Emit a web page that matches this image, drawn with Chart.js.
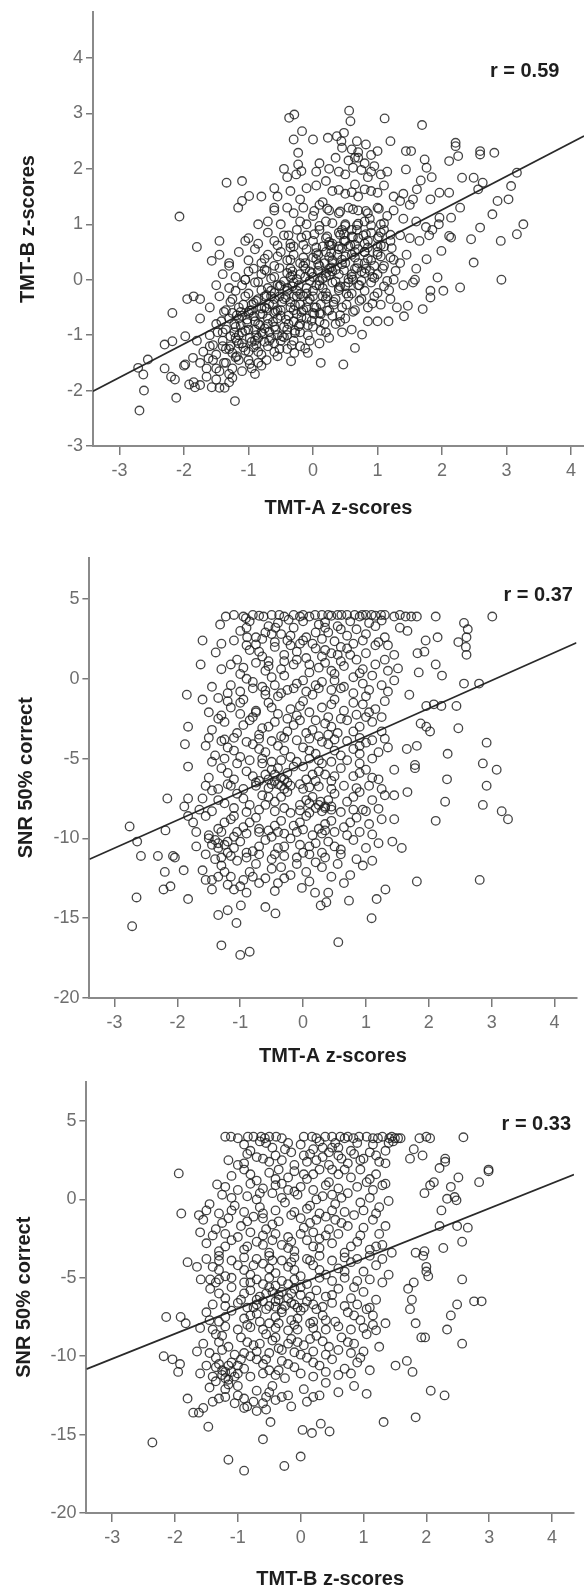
<!DOCTYPE html>
<html><head><meta charset="utf-8">
<script src="https://cdn.jsdelivr.net/npm/chart.js@4/dist/chart.umd.min.js"></script>
<style>
html,body{margin:0;padding:0;background:#fff}
body{width:584px;height:1591px;position:relative;overflow:hidden}
canvas{position:absolute;left:0}
</style></head>
<body>
<canvas id="p1" width="584" height="530" style="top:0px;width:584px;height:530px"></canvas>
<canvas id="p2" width="584" height="530" style="top:540px;width:584px;height:530px"></canvas>
<canvas id="p3" width="584" height="521" style="top:1070px;width:584px;height:521px"></canvas>
<script>
// ---------- DATA ----------
const zTicks = [-3,-2,-1,0,1,2,3,4];
const p1YTicks = [-3,-2,-1,0,1,2,3,4];
const snrTicks = [-20,-15,-10,-5,0,5];

const p1Labels = {x:'TMT-A z-scores', y:'TMT-B z-scores', r:'r = 0.59'};
const p2Labels = {x:'TMT-A z-scores', y:'SNR 50% correct', r:'r = 0.37'};
const p3Labels = {x:'TMT-B z-scores', y:'SNR 50% correct', r:'r = 0.33'};

// regression fits [slope, intercept]
const p1Fit = [0.605, 0.05];
const p2Fit = [1.75, -5.36];
const p3Fit = [1.60, -5.37];

// panel 1: TMT-A (x) vs TMT-B (y) - outer / sparse points
const p1Outer = [
[-0.37,2.92],[-0.29,2.98],[0.56,3.05],[0.58,2.86],[1.11,2.91],[1.69,2.79],[-0.17,2.68],[-0.30,2.53],[0.0,2.53],[0.23,2.56],[0.37,2.59],[0.44,2.5],[0.48,2.65],[0.68,2.5],[0.82,2.44],[1.2,2.5],[1.0,2.32],[1.44,2.32],[1.52,2.32],[2.21,2.47],[2.21,2.41],[2.59,2.32],[2.59,2.26],[2.81,2.29],[-0.23,2.29],[-0.23,2.08],[-0.26,1.9],[-0.18,1.96],[1.73,2.17],[1.76,2.02],[2.11,2.14],[2.25,2.23],
[-2.18,-0.6],[-1.98,-1.02],[-2.3,-1.17],[-2.18,-1.11],[-2.56,-1.44],[-2.71,-1.59],[-2.63,-1.71],[-2.62,-2.0],[-2.69,-2.36],[-2.12,-2.13],[-2.14,-1.8],[-1.98,-1.53],[-1.86,-1.41],[-1.92,-1.89],[-1.83,-1.94],[-1.57,-1.94],[-1.37,-1.95],[-1.25,-1.77],[-1.21,-2.19],[0.12,-1.5],[0.47,-1.53],[0.65,-1.23],[-0.08,-1.32],[-0.29,-1.32],[-0.34,-1.47],[0.76,-0.99],[0.85,-0.75],[1.0,-0.75],[1.17,-0.75],[1.41,-0.66],[1.47,-0.47],[1.7,-0.53],[1.82,-0.2],[1.82,-0.32],[2.02,-0.2],[2.28,-0.14],[1.93,0.04],[1.58,0.0],[1.76,0.37],[1.99,0.52],[2.14,0.76],[2.49,0.31],[2.92,0.0],[2.45,0.73],[2.59,0.94],[2.91,0.7],[2.78,1.18],[2.86,1.42],[3.03,1.45],[3.16,0.82],[3.26,1.0],[3.07,1.69],[3.16,1.93],[2.31,1.84],[2.49,1.84],[2.56,1.63],[2.63,1.75],[1.96,1.57],[2.11,1.57],[1.82,1.45],[1.84,1.85],[1.67,1.79],[1.61,1.63],[1.44,1.99],[1.96,1.12],[2.14,1.12],[2.28,1.3],[2.11,0.79],[-1.34,1.75],[-1.10,1.78],[-0.99,1.51],[-1.1,1.42],[-1.16,1.3],[-2.07,1.14],[-1.80,0.59],[-1.57,0.34],[-1.05,0.0],[-1.3,0.25],[-1.45,0.7],[-0.8,1.5],[-0.6,1.65],[-0.45,2.0],[0.05,1.95],[0.65,2.2]
];
// panel 1 - main cloud
const p1Cloud = [
[0.45,2.38],[0.6,2.35],[0.7,2.3],[0.9,2.25],[0.35,2.2],[0.55,2.15],[0.8,2.1],[0.95,2.05],[0.75,1.98],[0.62,2.02],[0.4,1.95],[1.05,1.9],[0.85,1.85],[1.15,1.95],[0.25,2.0],[0.1,2.1],
[-0.4,1.85],[-0.35,1.6],[-0.1,1.65],[0.05,1.7],[0.2,1.78],[0.3,1.6],[0.5,1.55],[0.65,1.72],[0.9,1.6],[1.1,1.7],[1.25,1.5],[1.4,1.55],[0.7,1.5],[-0.55,1.5],[-0.6,1.3],[-0.2,1.45],[0.15,1.4],[1.35,1.42],[1.55,1.45],[1.5,1.35],
[-0.6,1.25],[-0.4,1.3],[-0.3,1.2],[-0.15,1.3],[0.0,1.15],[0.1,1.35],[0.25,1.25],[0.4,1.2],[0.55,1.3],[0.7,1.25],[0.85,1.2],[1.0,1.3],[1.15,1.15],[1.25,1.25],[1.4,1.1],[1.6,1.05],[1.75,0.95],[1.85,0.9],[1.95,1.0],[-0.7,1.05],[-0.5,1.0],[-0.2,1.05],[0.2,1.05],[0.5,1.0],[0.8,1.05],[1.05,1.0],[-0.85,1.0],
[-1.0,0.75],[-1.05,0.7],[-0.85,0.65],[-0.7,0.85],[-0.6,0.7],[-0.45,0.8],[-0.35,0.65],[-0.25,0.9],[-0.1,0.8],[0.0,0.7],[0.1,0.9],[0.2,0.75],[0.3,0.65],[0.4,0.85],[0.5,0.7],[0.6,0.9],[0.7,0.75],[0.8,0.65],[0.9,0.85],[1.0,0.75],[1.1,0.9],[1.2,0.7],[1.35,0.8],[1.5,0.75],[1.65,0.7],[1.8,0.8],[0.55,0.6],[-0.3,0.6],[0.15,0.6],[1.0,0.6],
[-1.45,0.45],[-1.3,0.3],[-1.15,0.5],[-1.0,0.35],[-0.9,0.55],[-0.8,0.3],[-0.7,0.45],[-0.6,0.25],[-0.5,0.5],[-0.4,0.35],[-0.3,0.45],[-0.2,0.3],[-0.1,0.55],[0.0,0.4],[0.1,0.25],[0.2,0.5],[0.3,0.35],[0.4,0.55],[0.5,0.3],[0.6,0.45],[0.7,0.3],[0.8,0.5],[0.9,0.35],[1.0,0.45],[1.1,0.25],[1.2,0.4],[1.35,0.3],[1.45,0.45],[1.6,0.2],[0.25,0.2],[-0.35,0.2],[0.65,0.2],
[-1.85,-0.3],[-1.75,-0.35],[-1.5,-0.1],[-1.4,0.1],[-1.3,-0.15],[-1.2,0.05],[-1.1,-0.1],[-1.0,0.15],[-0.9,-0.05],[-0.8,0.1],[-0.7,-0.15],[-0.6,0.05],[-0.5,-0.1],[-0.4,0.12],[-0.3,-0.05],[-0.2,0.1],[-0.1,-0.15],[0.0,0.05],[0.1,-0.1],[0.2,0.12],[0.3,-0.05],[0.4,0.1],[0.5,-0.12],[0.6,0.05],[0.7,-0.1],[0.8,0.12],[0.9,-0.05],[1.0,0.1],[1.1,-0.12],[1.25,0.0],[1.4,-0.1],[1.55,-0.05],[-0.25,-0.2],[0.35,0.18],[-0.75,0.18],
[-1.95,-0.35],[-1.6,-0.5],[-1.45,-0.3],[-1.35,-0.55],[-1.25,-0.35],[-1.15,-0.5],[-1.05,-0.3],[-0.95,-0.55],[-0.85,-0.35],[-0.75,-0.5],[-0.65,-0.3],[-0.55,-0.55],[-0.45,-0.35],[-0.35,-0.5],[-0.25,-0.3],[-0.15,-0.55],[-0.05,-0.35],[0.05,-0.5],[0.15,-0.3],[0.25,-0.55],[0.35,-0.35],[0.45,-0.5],[0.55,-0.3],[0.65,-0.55],[0.75,-0.35],[0.85,-0.5],[0.95,-0.3],[1.05,-0.45],[1.2,-0.35],[1.3,-0.5],[-1.75,-0.7],[0.1,-0.6],[-0.6,-0.6],
[-1.5,-0.8],[-1.4,-0.95],[-1.3,-0.7],[-1.2,-0.85],[-1.1,-0.65],[-1.0,-0.9],[-0.9,-0.75],[-0.8,-0.95],[-0.7,-0.7],[-0.6,-0.85],[-0.5,-0.65],[-0.4,-0.9],[-0.3,-0.75],[-0.2,-0.95],[-0.1,-0.7],[0.0,-0.85],[0.1,-0.75],[0.2,-0.95],[0.35,-0.8],[0.5,-0.7],[0.6,-0.9],[-1.15,-1.0],[-0.85,-1.05],[-0.55,-1.0],[0.3,-0.65],[0.45,-0.95],[-1.6,-1.0],[-1.25,-0.6],
[-1.8,-1.1],[-1.7,-1.3],[-1.6,-1.2],[-1.5,-1.35],[-1.4,-1.1],[-1.3,-1.25],[-1.2,-1.4],[-1.1,-1.15],[-1.0,-1.3],[-0.9,-1.1],[-0.8,-1.35],[-0.7,-1.2],[-0.6,-1.3],[-0.5,-1.1],[-0.4,-1.25],[-0.3,-1.1],[-0.2,-1.2],[-0.05,-1.1],[0.1,-1.15],[0.25,-1.05],[-1.0,-1.45],[-0.85,-1.5],
[-1.75,-1.5],[-1.65,-1.6],[-1.55,-1.45],[-1.45,-1.65],[-1.35,-1.5],[-1.25,-1.6],[-1.15,-1.45],[-0.95,-1.6],[-0.9,-1.7],[-1.5,-1.8],[-1.75,-1.9],[-1.85,-1.85],[-1.3,-1.85],[-0.8,-1.55],[-2.0,-1.55],[-2.2,-1.75],[-2.3,-1.6]
];
// panel 1 - dense core
const p1Core = [
[-1.62,-1.42],[-1.38,-1.5],[-1.18,-1.38],[-0.98,-1.52],[-0.72,-1.45],[-0.55,-1.38],
[-1.55,-1.18],[-1.35,-1.25],[-1.15,-1.15],[-0.92,-1.22],[-0.75,-1.12],[-0.52,-1.25],[-0.33,-1.18],[-0.12,-1.24],
[-1.48,-0.95],[-1.28,-1.02],[-1.05,-0.92],[-0.88,-1.0],[-0.68,-0.94],[-0.45,-1.04],[-0.28,-0.96],[-0.08,-1.0],[0.12,-0.92],
[-1.42,-0.75],[-1.22,-0.8],[-1.02,-0.72],[-0.82,-0.82],[-0.62,-0.76],[-0.42,-0.72],[-0.22,-0.84],[-0.02,-0.74],[0.18,-0.8],[0.42,-0.76],
[-1.38,-0.58],[-1.18,-0.64],[-0.98,-0.56],[-0.78,-0.62],[-0.58,-0.57],[-0.38,-0.65],[-0.18,-0.58],[0.02,-0.62],[0.22,-0.56],[0.42,-0.64],[0.62,-0.58],
[-1.28,-0.4],[-1.08,-0.45],[-0.88,-0.38],[-0.68,-0.44],[-0.48,-0.4],[-0.28,-0.46],[-0.08,-0.39],[0.12,-0.44],[0.32,-0.4],[0.52,-0.45],[0.72,-0.38],[0.92,-0.43],
[-1.2,-0.2],[-1.0,-0.25],[-0.8,-0.19],[-0.6,-0.24],[-0.4,-0.2],[-0.2,-0.26],[0.0,-0.2],[0.2,-0.24],[0.4,-0.19],[0.6,-0.25],[0.8,-0.2],[1.0,-0.24],[1.18,-0.19],
[-1.05,0.0],[-0.85,-0.04],[-0.65,0.02],[-0.45,-0.03],[-0.25,0.01],[-0.05,-0.02],[0.15,0.02],[0.35,-0.03],[0.55,0.01],[0.75,-0.02],[0.95,0.03],[1.15,-0.02],
[-0.92,0.2],[-0.72,0.16],[-0.52,0.21],[-0.32,0.15],[-0.12,0.2],[0.08,0.16],[0.28,0.22],[0.48,0.17],[0.68,0.21],[0.88,0.16],[1.08,0.2],[1.28,0.16],
[-0.75,0.38],[-0.55,0.42],[-0.35,0.36],[-0.15,0.4],[0.05,0.37],[0.25,0.41],[0.45,0.36],[0.65,0.4],[0.85,0.38],[1.05,0.42],[1.25,0.36],
[-0.55,0.62],[-0.35,0.58],[-0.15,0.63],[0.05,0.58],[0.25,0.62],[0.45,0.57],[0.65,0.63],[0.85,0.58],[1.05,0.62],[1.22,0.57],
[-0.38,0.8],[-0.18,0.76],[0.02,0.82],[0.22,0.78],[0.42,0.81],[0.62,0.77],[0.82,0.82],[1.02,0.78],[1.2,0.81],
[-0.1,1.0],[0.1,0.97],[0.3,1.02],[0.5,0.97],[0.7,1.01],[0.9,0.98],[1.1,1.02],
[0.02,1.24],[0.22,1.28],[0.42,1.23],[0.62,1.27],[0.82,1.24],[1.02,1.28],
[0.4,1.62],[0.6,1.58],[0.8,1.63],[1.0,1.57],[0.5,1.9],[0.7,2.2],[0.9,1.95],
[-1.5,-1.6],[-1.3,-1.7],[-1.1,-1.65],[-1.45,-1.95],[-1.65,-1.75]
];
// panel 1 - darkest centre
const p1Dark = [
[-1.25,-1.32],[-1.05,-1.28],[-0.85,-1.3],[-0.65,-1.05],[-0.45,-0.85],[-0.25,-0.62],[-1.12,-0.82],[-0.92,-0.66],[-0.72,-0.52],[-0.52,-0.3],[-0.32,-0.12],[-0.12,0.05],[0.08,0.28],[0.28,0.48],[0.48,0.7],[0.68,0.9],
[-0.95,-1.12],[-0.75,-0.88],[-0.55,-0.7],[-0.35,-0.4],[-0.15,-0.3],[0.05,-0.1],[0.25,0.08],[0.45,0.28],[0.65,0.5],[0.85,0.7],[1.05,0.85],
[-0.6,-1.15],[-0.4,-1.0],[-0.2,-0.8],[0.0,-0.6],[0.2,-0.35],[0.4,-0.15],[0.6,0.1],[0.8,0.3],[1.0,0.5],
[-1.35,-0.9],[-1.15,-0.7],[-0.95,-0.45],[-0.75,-0.3],[-0.55,-0.1],[-0.35,0.05],[-0.15,0.25],[0.05,0.48],[0.25,0.68],[0.45,0.9],
[-0.85,-0.8],[-0.3,-0.3],[0.3,0.3],[0.55,-0.05],[0.75,0.15],[-0.05,0.15],[-0.65,-0.2],[-1.0,-0.6],[-0.1,-0.5],[0.15,-0.15],[0.95,0.25],[1.1,0.6],[-1.4,-1.2],[-1.2,-1.05],
[-1.28,-1.2],[-1.18,-1.1],[-1.08,-1.22],[-0.98,-1.05],[-0.88,-1.18],[-0.78,-0.98],[-0.68,-1.1],[-0.58,-0.9],[-0.48,-1.02],[-0.38,-0.8],[-0.28,-0.92],[-0.18,-0.68],[-0.08,-0.82],[0.02,-0.5],[0.12,-0.62],[0.22,-0.3],[0.32,-0.45],[0.42,-0.12],[0.52,-0.25],[0.62,0.0],[0.72,-0.1],[0.82,0.2],[0.92,0.05],
[-1.22,-0.95],[-1.12,-0.58],[-1.02,-0.78],[-0.92,-0.42],[-0.82,-0.62],[-0.72,-0.28],[-0.62,-0.45],[-0.52,-0.12],[-0.42,-0.32],[-0.32,0.08],[-0.22,-0.1],[-0.12,0.3],[-0.02,0.12],[0.08,0.45],[0.18,0.3],[0.28,0.62],[0.38,0.45],[0.48,0.82],[0.58,0.62],[0.68,0.98],[0.78,0.8],[0.88,1.1],
[-0.7,-0.8],[-0.5,-0.55],[-0.3,-0.55],[-0.1,-0.25],[0.1,-0.02],[0.3,0.15],[0.5,0.42],[0.7,0.55],[-0.9,-0.9],[-1.1,-0.95],[-0.2,-0.45],[0.0,-0.3],[0.2,0.05],[0.4,0.6],[0.6,0.78],[0.8,0.5],[-0.6,-0.35],[-0.4,-0.15],[-0.8,-0.52]
];

// panel 2: TMT-A (x) vs SNR 50% correct (y)
const p2Outer = [
[-2.76,-9.25],[-2.64,-10.2],[-2.58,-11.1],[-2.65,-13.7],[-2.72,-15.5],[-2.31,-11.1],[-2.19,-9.5],[-2.16,-7.5],[-2.04,-11.2],[-2.07,-11.1],[-2.2,-12.1],[-2.22,-13.2],[-2.11,-13.0],[-1.83,-7.5],[-1.89,-8.0],[-1.83,-8.6],[-1.9,-12.0],[-1.83,-13.8],[-1.85,-1.0],[-1.83,-3.0],[-1.88,-4.1],[-1.83,-5.5],[-1.63,0.9],[-1.6,-1.3],[-1.6,2.4],[-1.39,1.65],[-1.32,3.4],[-1.23,3.9],[-1.3,-16.7],[-1.2,-14.5],[-1.35,-14.8],[-1.06,-15.3],[-0.99,-14.2],[-1.0,-17.3],[-0.85,-17.1],[-0.91,3.8],[-0.89,2.6],[-0.75,2.15],[-0.63,3.9],[-0.44,3.2],[-0.23,3.7],[-0.05,3.9],[-0.44,-14.7],[-0.6,-14.3],[-0.02,-13.1],[0.19,-13.4],[0.28,-14.2],[0.37,-14.0],[0.4,-13.4],[0.56,-16.5],[0.73,-13.9],[1.09,-15.0],[1.17,-13.8],[1.31,-13.2],[1.81,-12.7],[2.81,-12.6],[2.11,-8.9],[2.26,-7.7],[2.29,-6.3],[2.3,-4.7],[2.47,-3.1],[2.44,-1.7],[2.56,-0.3],[2.8,-0.3],[2.92,-4.0],[2.86,-5.3],[3.08,-5.7],[2.92,-6.7],[2.86,-7.9],[3.16,-8.3],[3.26,-8.8],[3.01,3.9],[2.56,3.5],[2.62,3.1],[2.6,2.6],[2.59,2.0],[2.6,1.5],[2.47,2.3],[2.11,3.9],[2.14,2.6],[1.95,2.4],[1.82,1.6],[1.93,1.7],[2.11,0.9],[2.21,0.2],[1.84,0.4],[1.69,-1.0],[1.96,-1.7],[2.08,-1.6],[2.2,-1.7],[1.96,-3.0],[2.02,-3.3],[1.87,-2.8],[1.81,-4.2],[1.78,-5.4],[1.78,-5.6],[1.66,-7.1],[1.65,-4.4],[1.57,-10.6],[1.42,-10.2],[1.45,-8.8],[1.45,-7.3],[1.45,-5.7],[1.45,1.5],[1.51,0.65],[1.45,-0.1],[1.54,4.0],[1.63,3.9],[1.72,3.9],[1.81,3.9],[1.54,3.2],[1.66,3.0],
[-0.38,4.0],[0.19,4.0],[0.4,4.0],[0.55,4.0],[0.61,4.0],[0.82,4.0],[0.94,4.0],[1.09,4.0],[1.24,4.0]
];
const p2Cloud = [
[-1.0,3.0],[-0.75,2.6],[-0.55,3.3],[-0.35,2.8],[-0.15,3.2],[0.05,2.6],[0.25,3.4],[0.4,2.9],[0.55,3.3],[0.7,2.7],[0.85,3.1],[1.0,2.8],[1.15,3.3],[1.3,2.6],[-0.25,2.4],[0.15,2.2],[0.6,2.0],[0.45,1.6],
[-1.05,1.2],[-0.85,1.8],[-0.65,1.4],[-0.45,2.0],[-0.3,1.1],[-0.1,1.7],[0.05,1.3],[0.2,1.9],[0.35,1.0],[0.55,1.5],[0.7,1.9],[0.85,1.2],[1.0,1.6],[1.15,2.1],[1.3,1.2],[-0.2,2.1],[0.1,0.9],
[-1.2,-0.9],[-1.0,0.3],[-0.8,-0.2],[-0.6,0.5],[-0.45,-0.4],[-0.3,0.2],[-0.1,-0.3],[0.1,0.4],[0.3,-0.2],[0.5,0.3],[0.65,-0.5],[0.8,0.1],[0.95,-0.3],[1.1,0.2],[1.25,-0.4],[-1.15,-0.4],[0.25,-0.6],
[-1.35,-1.2],[-1.15,-1.8],[-0.95,-1.3],[-0.75,-2.0],[-0.55,-1.5],[-0.4,-1.1],[-0.2,-1.9],[0.0,-1.4],[0.15,-1.0],[0.3,-1.8],[0.5,-1.3],[0.65,-2.0],[0.8,-1.5],[1.0,-1.1],[1.15,-1.9],[1.3,-1.4],[-0.6,-1.0],
[-1.45,-3.2],[-1.25,-2.7],[-1.05,-3.4],[-0.85,-2.6],[-0.65,-3.1],[-0.45,-2.7],[-0.25,-3.3],[-0.05,-2.6],[0.15,-3.2],[0.35,-2.8],[0.55,-3.4],[0.7,-2.6],[0.9,-3.0],[1.1,-2.7],[1.25,-3.3],[-1.35,-2.5],[0.25,-3.6],
[-1.55,-4.2],[-1.4,-4.8],[-1.2,-4.3],[-1.0,-4.9],[-0.8,-4.1],[-0.6,-4.6],[-0.4,-4.2],[-0.2,-4.9],[0.0,-4.3],[0.2,-4.7],[0.4,-4.1],[0.6,-4.8],[0.8,-4.4],[1.0,-4.0],[1.2,-4.6],[1.35,-4.3],[-0.5,-5.2],[0.3,-5.3],
[-1.5,-6.2],[-1.3,-5.6],[-1.1,-6.3],[-0.9,-5.8],[-0.7,-6.4],[-0.5,-5.7],[-0.35,-6.2],[-0.15,-5.5],[0.05,-6.3],[0.25,-5.8],[0.45,-6.4],[0.6,-5.6],[0.8,-6.1],[1.0,-5.7],[1.2,-6.3],[-0.4,-6.6],[0.1,-6.8],[0.35,-6.0],[-0.45,-6.0],[-0.3,-6.9],
[-1.6,-7.5],[-1.45,-7.0],[-1.25,-7.8],[-1.05,-7.2],[-0.85,-7.9],[-0.65,-7.3],[-0.45,-7.7],[-0.25,-7.1],[-0.05,-7.9],[0.15,-7.4],[0.35,-8.0],[0.5,-7.2],[0.7,-7.7],[0.9,-7.1],[1.1,-7.6],[1.3,-7.3],[0.3,-8.3],[-0.2,-8.4],[0.2,-8.1],
[-1.75,-9.0],[-1.55,-8.6],[-1.35,-9.4],[-1.15,-8.8],[-0.95,-9.3],[-0.75,-8.7],[-0.55,-9.5],[-0.35,-8.9],[-0.15,-9.2],[0.05,-8.6],[0.25,-9.4],[0.45,-8.9],[0.65,-9.3],[0.85,-8.7],[1.05,-9.1],[1.25,-8.8],[-0.5,-9.9],[0.15,-9.8],
[-1.7,-10.5],[-1.5,-10.0],[-1.35,-10.3],[-1.2,-10.9],[-1.0,-10.2],[-0.8,-10.8],[-0.6,-10.1],[-0.4,-10.6],[-0.2,-10.0],[0.0,-10.9],[0.2,-10.3],[0.4,-10.2],[0.6,-10.7],[0.8,-10.1],[1.0,-10.6],[1.2,-10.3],[-1.3,-11.2],[-1.05,-11.4],[-1.4,-10.1],
[-1.6,-12.0],[-1.45,-12.6],[-1.3,-11.7],[-1.15,-12.4],[-1.0,-13.0],[-0.85,-12.1],[-0.7,-12.8],[-0.5,-11.9],[-0.3,-12.5],[-0.1,-11.6],[0.05,-12.1],[0.3,-11.8],[0.55,-11.6],[0.75,-12.3],[0.95,-11.7],[1.1,-11.4],[-0.9,-13.4],[-0.45,-13.3],[-1.45,-13.2]
];
const p2Core = [
[-1.1,4.0],[-0.95,3.9],[-0.8,4.0],[-0.7,3.95],[-0.5,4.0],[-0.3,3.9],[-0.15,4.0],[0.0,4.0],[0.1,3.9],[0.3,4.0],[0.45,3.95],[0.7,4.0],[0.9,3.9],[1.0,4.0],[1.15,3.95],[1.3,4.0],[1.45,3.9],
[-0.85,3.6],[-0.4,3.5],[0.0,3.6],[0.35,3.55],[0.75,3.6],[1.05,3.5],[1.25,3.65],
[-1.3,2.2],[-1.1,2.4],[-0.9,2.1],[-0.65,2.5],[-0.45,2.3],[-0.05,2.2],[0.3,2.5],[0.5,2.35],[0.8,2.2],[0.95,2.4],[1.2,2.3],[1.35,2.1],
[-1.3,0.6],[-1.15,0.9],[-0.95,0.7],[-0.75,1.0],[-0.55,0.8],[-0.35,0.6],[-0.15,0.9],[0.25,0.7],[0.45,0.5],[0.65,0.8],[0.95,0.6],[1.15,0.9],[1.35,0.5],
[-1.45,-0.5],[-1.0,-0.8],[-0.8,-0.6],[-0.6,-0.75],[-0.35,-0.9],[-0.15,-0.6],[0.05,-0.8],[0.45,-0.7],[0.8,-0.9],[1.05,-0.7],[1.35,-0.8],
[-1.5,-2.1],[-1.3,-2.3],[-1.0,-2.2],[-0.8,-2.4],[-0.4,-2.2],[-0.1,-2.3],[0.1,-2.1],[0.4,-2.4],[0.85,-2.25],[1.05,-2.1],[1.25,-2.4],
[-1.5,-3.7],[-1.3,-3.9],[-1.1,-3.7],[-0.9,-3.95],[-0.7,-3.75],[-0.5,-3.9],[-0.3,-3.7],[-0.1,-3.85],[0.1,-3.75],[0.3,-3.95],[0.5,-3.8],[0.7,-3.9],[0.9,-3.7],[1.1,-3.85],[1.3,-3.75],
[-1.45,-5.2],[-1.25,-5.0],[-1.05,-5.3],[-0.85,-5.1],[-0.65,-5.3],[-0.35,-5.1],[-0.1,-5.2],[0.1,-5.0],[0.45,-5.2],[0.7,-5.1],[0.9,-5.3],[1.1,-5.0],
[-1.55,-6.7],[-1.35,-6.9],[-1.15,-6.7],[-0.95,-6.9],[-0.75,-6.7],[-0.55,-6.85],[-0.2,-6.7],[0.0,-6.9],[0.25,-6.75],[0.45,-6.9],[0.65,-6.7],[0.85,-6.85],[1.05,-6.7],[1.25,-6.9],
[-1.65,-8.2],[-1.45,-8.3],[-1.1,-8.1],[-0.9,-8.35],[-0.7,-8.2],[-0.45,-8.3],[-0.05,-8.25],[0.1,-8.4],[0.45,-8.2],[0.6,-8.35],[0.8,-8.2],[1.0,-8.3],[1.2,-8.15],
[-1.7,-9.6],[-1.5,-9.8],[-1.3,-9.6],[-1.1,-9.9],[-0.9,-9.7],[-0.7,-9.6],[-0.3,-9.7],[-0.1,-9.6],[0.3,-9.7],[0.5,-9.6],[0.7,-9.8],[0.9,-9.6],[1.1,-9.75],
[-1.55,-11.0],[-1.4,-11.3],[-1.15,-11.1],[-0.9,-11.2],[-0.7,-11.0],[-0.5,-11.3],[-0.3,-11.1],[-0.1,-11.2],[0.1,-11.0],[0.35,-11.2],[0.6,-11.0],[0.85,-11.3],
[-1.55,-12.6],[-1.35,-12.4],[-1.2,-12.9],[-0.95,-12.6],[-0.8,-12.4],[-0.6,-12.5],[-0.4,-12.8],[-0.2,-12.3],[0.1,-12.7],[0.45,-12.4],[0.65,-12.8],
[-0.45,-6.4],[-0.35,-6.7],[-0.3,-6.3],[-0.5,-6.6],[0.25,-7.9],[0.35,-8.1],[0.28,-7.7],[-1.25,-10.4],[-1.35,-10.6],[-1.2,-10.2]
];
const p2Dark = [
[-0.9,3.2],[-0.6,2.9],[-0.2,2.7],[0.2,2.9],[0.6,3.1],[-0.7,1.7],[-0.3,1.5],[0.3,1.4],[0.75,1.5],[-0.9,0.0],[-0.5,0.1],[0.0,-0.1],[0.5,-0.1],[0.9,0.35],
[-1.0,-1.5],[-0.5,-1.8],[-0.05,-1.7],[0.45,-1.6],[0.95,-1.6],[-0.95,-2.9],[-0.55,-3.0],[-0.15,-2.9],[0.45,-3.0],[0.8,-3.3],
[-1.1,-4.5],[-0.7,-4.4],[-0.3,-4.5],[0.1,-4.5],[0.5,-4.5],[0.9,-4.7],[-1.2,-5.9],[-0.8,-6.1],[-0.6,-6.0],[-0.25,-5.9],[0.15,-6.0],[0.5,-6.1],[0.9,-5.9],
[-0.95,-7.5],[-0.55,-7.4],[-0.35,-7.4],[0.05,-7.6],[0.4,-7.6],[0.8,-7.4],[-1.25,-9.0],[-0.85,-9.0],[-0.45,-9.2],[-0.05,-9.0],[0.35,-9.1],[0.75,-9.0],
[-1.45,-10.4],[-1.1,-10.6],[-0.7,-10.5],[-0.3,-10.5],[0.1,-10.5],[0.5,-10.5],[-1.25,-12.1],[-0.75,-11.6],[-0.35,-11.8],[0.2,-11.5],[-1.1,-13.2],
[-0.75,-6.5],[-0.55,-6.3],[-0.25,-6.5],[-0.05,-6.6],[0.2,-6.4],[-0.65,-5.0],[-0.4,-5.6],[0.0,-5.5],[0.25,-5.1],[-0.6,-7.9],[-0.3,-8.1],[0.1,-7.8],[0.45,-8.0],[-0.7,-9.4],[-0.4,-9.6],[0.0,-9.45],[0.35,-9.5],[-0.9,-10.9],[-0.45,-11.0],[-0.05,-10.4],[0.3,-10.9],[-0.7,-3.5],[-0.35,-3.6],[0.05,-3.4],[0.4,-3.5],[-0.75,-2.1],[-0.25,-2.5],[0.2,-2.6],[0.6,-2.5],[-0.65,-0.5],[-0.25,-0.7],[0.2,-0.4],[0.6,-0.6],[-0.55,1.1],[-0.1,1.2],[0.35,1.8],[0.6,1.1],[-0.5,2.8],[0.0,2.4],[0.35,3.2],[-1.1,-8.6],[-1.35,-7.6],[-1.2,-6.6],[0.95,-8.2],[1.1,-6.2],[0.9,-4.2],[1.0,-2.4],[-1.25,-3.8],[-1.2,-1.4],[-1.05,-9.6]
];

// panel 3: TMT-B (x) vs SNR 50% correct (y)
const p3Outer = [
[-1.94,1.66],[-2.36,-15.5],[-1.9,-0.9],[-1.62,-1.0],[-1.33,0.95],[-1.8,-4.0],[-1.65,-4.3],[-1.59,-5.1],[-1.44,-5.1],[-1.44,-5.7],[-2.14,-7.5],[-1.91,-7.5],[-1.83,-7.9],[-2.18,-10.0],[-2.04,-10.2],[-1.95,-11.0],[-1.92,-10.5],[-1.8,-12.7],[-1.71,-13.6],[-1.62,-13.6],[-1.47,-14.5],[-1.15,-16.6],[-0.9,-17.3],[-0.48,-14.2],[-0.26,-17.0],[0.0,-16.4],[-0.6,-15.3],[0.03,-14.7],[0.18,-14.9],[0.32,-14.3],[0.46,-14.8],[1.32,-14.2],[1.83,-13.9],[2.07,-12.2],[2.29,-12.5],[1.78,-11.0],[1.69,-10.3],[1.51,-10.6],[2.57,-9.2],[2.33,-8.3],[2.39,-7.4],[2.49,-6.7],[2.76,-6.5],[2.88,-6.5],[2.57,-5.1],[2.57,-2.7],[2.49,-1.7],[2.66,-1.8],[2.59,3.96],[2.84,1.1],[2.99,1.8],[2.99,1.9],[2.51,1.4],[2.39,0.8],[2.45,0.15],[2.48,-0.06],[2.33,0.04],[2.24,-0.7],[2.21,-1.7],[2.27,-3.1],[2.3,2.6],[2.3,2.4],[2.21,2.0],[2.06,0.9],[2.12,1.1],[1.97,0.4],[1.89,3.9],[2.06,3.9],[1.94,2.8],[1.8,3.2],[1.74,2.6],[1.23,3.9],[1.41,3.9],[1.5,3.9],[1.59,3.9],[1.35,3.1],[1.47,3.7],
[-1.11,4.0],[-0.84,4.0],[-0.63,4.0],[-0.57,3.9],[-0.39,4.0],[0.18,4.0],[0.39,4.0],[0.63,4.0],[0.84,3.9],[0.93,4.0],
[1.97,-3.3],[1.83,-3.4],[2.0,-4.6],[2.03,-4.9],[1.8,-5.3],[1.71,-5.7],[1.77,-6.4],[1.74,-7.0],[1.83,-7.9],[1.92,-8.8],[1.98,-8.8],[2.0,-4.3],[1.95,-3.6]
];
const p3Cloud = [
[-1.0,2.2],[-0.8,3.1],[-0.6,2.6],[-0.45,3.3],[-0.3,2.5],[-0.15,3.0],[0.1,2.4],[0.2,3.2],[0.35,2.7],[0.5,3.3],[0.65,2.6],[0.8,3.1],[0.95,2.5],[1.1,3.0],[1.25,2.4],[-0.55,3.6],[0.45,2.2],
[-1.1,1.5],[-0.9,1.9],[-0.7,1.2],[-0.5,1.7],[-0.3,1.0],[-0.1,1.8],[0.1,1.3],[0.3,1.9],[0.45,1.1],[0.6,1.6],[0.8,1.4],[0.95,1.9],[1.05,1.1],[1.2,1.6],[1.35,1.0],[-0.2,1.4],
[-1.45,-0.3],[-1.25,0.3],[-1.05,-0.4],[-0.85,0.2],[-0.65,-0.5],[-0.45,0.4],[-0.25,-0.2],[-0.05,0.3],[0.15,-0.4],[0.35,0.2],[0.55,-0.3],[0.75,0.4],[0.95,-0.2],[1.1,0.1],[1.25,-0.5],[1.4,-0.1],
[-1.55,-1.3],[-1.35,-1.9],[-1.15,-1.2],[-0.95,-1.7],[-0.75,-1.1],[-0.55,-1.9],[-0.35,-1.4],[-0.15,-1.0],[0.05,-1.8],[0.25,-1.3],[0.45,-1.9],[0.65,-1.5],[0.85,-1.0],[1.0,-1.8],[1.15,-1.3],[1.35,-1.7],[0.75,-1.7],
[-1.5,-2.8],[-1.3,-3.3],[-1.1,-2.6],[-0.9,-3.2],[-0.7,-2.7],[-0.5,-3.4],[-0.3,-2.9],[-0.1,-3.3],[0.1,-2.6],[0.3,-3.1],[0.5,-2.8],[0.7,-3.4],[0.9,-2.7],[1.1,-3.2],[1.3,-2.9],[1.45,-3.4],[-0.85,-3.0],
[-1.4,-4.3],[-1.2,-4.9],[-1.0,-4.2],[-0.8,-4.8],[-0.6,-4.1],[-0.4,-4.7],[-0.2,-4.3],[0.0,-4.9],[0.2,-4.2],[0.4,-4.8],[0.6,-4.4],[0.8,-4.0],[1.0,-4.6],[1.2,-4.2],[1.4,-4.8],[-0.3,-5.2],[0.1,-5.4],
[-1.3,-6.0],[-1.1,-5.6],[-0.95,-6.4],[-0.8,-5.8],[-0.65,-6.2],[-0.5,-5.6],[-0.4,-6.5],[-0.3,-5.9],[-0.2,-6.3],[-0.1,-5.7],[0.0,-6.1],[0.1,-6.5],[0.25,-5.8],[0.4,-6.2],[0.6,-5.7],[0.8,-6.3],[1.0,-5.9],[1.2,-6.4],[-0.25,-6.8],[-0.55,-7.0],
[-1.5,-7.2],[-1.3,-7.8],[-1.1,-7.1],[-0.9,-7.6],[-0.7,-7.3],[-0.5,-7.9],[-0.3,-7.2],[-0.15,-7.7],[0.0,-7.1],[0.15,-7.9],[0.35,-7.4],[0.55,-7.8],[0.75,-7.2],[0.95,-7.7],[1.15,-7.4],[1.35,-7.9],[-0.05,-8.3],
[-1.55,-9.2],[-1.35,-8.6],[-1.15,-9.4],[-0.95,-8.8],[-0.75,-9.3],[-0.55,-8.6],[-0.35,-9.5],[-0.15,-8.9],[0.05,-9.3],[0.25,-8.7],[0.45,-9.4],[0.65,-8.8],[0.85,-9.2],[1.05,-8.6],[1.25,-9.4],[-0.9,-9.8],[0.0,-9.9],
[-1.5,-10.6],[-1.35,-10.1],[-1.2,-11.0],[-1.1,-10.4],[-0.9,-10.8],[-0.7,-10.2],[-0.5,-10.9],[-0.3,-10.3],[-0.1,-10.7],[0.1,-10.1],[0.3,-10.6],[0.5,-10.2],[0.7,-10.8],[0.9,-10.4],[1.1,-10.9],[-1.2,-11.4],[-0.25,-11.4],
[-1.45,-12.0],[-1.3,-12.7],[-1.15,-11.8],[-1.0,-12.5],[-0.85,-13.2],[-0.7,-12.2],[-0.6,-13.0],[-0.45,-11.9],[-0.3,-12.6],[-0.15,-13.2],[0.05,-12.1],[0.2,-12.6],[0.4,-11.7],[0.6,-12.3],[0.85,-11.9],[1.05,-12.4],[-0.7,-13.5],[-0.55,-13.4],[-1.55,-13.3]
];
const p3Core = [
[-1.2,4.0],[-1.0,3.9],[-0.75,4.0],[-0.5,4.0],[-0.3,3.9],[0.05,4.0],[0.25,3.9],[0.5,4.0],[0.7,3.9],[0.75,4.0],[1.05,4.0],[1.15,3.9],[1.3,4.0],[1.45,4.0],[1.55,3.9],[2.0,4.0],
[-0.9,3.5],[-0.65,3.7],[-0.2,3.6],[0.0,3.5],[0.3,3.7],[0.55,3.6],[0.9,3.6],[1.15,3.5],[1.4,3.6],
[-1.15,2.5],[-0.9,2.3],[-0.7,2.7],[-0.5,2.4],[-0.1,2.2],[0.05,2.8],[0.25,2.5],[0.6,2.8],[0.75,2.3],[1.0,2.6],[1.2,2.8],[1.35,2.3],
[-1.2,0.8],[-1.0,0.6],[-0.8,1.0],[-0.6,0.7],[-0.4,0.9],[-0.2,0.6],[0.0,0.8],[0.2,0.6],[0.4,0.9],[0.6,0.7],[0.9,0.8],[1.15,0.6],[1.3,0.9],
[-1.5,-0.7],[-1.3,-0.9],[-1.1,-0.7],[-0.9,-0.8],[-0.6,-0.9],[-0.4,-0.7],[-0.1,-0.8],[0.1,-0.6],[0.3,-0.9],[0.5,-0.7],[0.7,-0.8],[1.0,-0.7],[1.2,-0.9],
[-1.6,-2.1],[-1.4,-2.3],[-1.2,-2.2],[-1.0,-2.4],[-0.8,-2.1],[-0.6,-2.3],[-0.4,-2.2],[-0.2,-2.4],[0.0,-2.2],[0.2,-2.1],[0.4,-2.3],[0.6,-2.2],[0.95,-2.3],[1.25,-2.2],
[-1.5,-3.8],[-1.3,-3.6],[-1.1,-3.9],[-0.9,-3.7],[-0.7,-3.8],[-0.5,-3.6],[-0.3,-3.9],[-0.1,-3.7],[0.1,-3.8],[0.3,-3.6],[0.5,-3.9],[0.7,-3.7],[0.9,-3.8],[1.1,-3.6],[1.3,-3.8],
[-1.3,-5.1],[-1.1,-5.0],[-0.9,-5.3],[-0.7,-5.1],[-0.5,-5.0],[-0.1,-5.1],[0.3,-5.0],[0.5,-5.2],[0.7,-5.0],[0.9,-5.2],[1.1,-5.1],[1.3,-5.3],
[-1.4,-6.7],[-1.2,-6.8],[-1.0,-6.6],[-0.85,-6.9],[-0.7,-6.7],[-0.4,-6.85],[-0.1,-6.7],[0.05,-6.9],[0.2,-6.7],[0.35,-6.85],[0.5,-6.6],[0.7,-6.8],[0.9,-6.7],[1.1,-6.9],[-0.6,-6.5],[-0.35,-6.1],[-0.15,-6.0],[-0.45,-5.9],
[-1.6,-8.2],[-1.4,-8.3],[-1.2,-8.1],[-1.0,-8.3],[-0.8,-8.15],[-0.6,-8.3],[-0.4,-8.2],[-0.2,-8.35],[0.2,-8.2],[0.4,-8.3],[0.6,-8.1],[0.8,-8.3],[1.0,-8.2],[1.2,-8.35],
[-1.65,-9.7],[-1.45,-9.8],[-1.25,-9.6],[-1.05,-9.9],[-0.7,-9.7],[-0.5,-9.8],[-0.3,-9.6],[-0.1,-9.75],[0.2,-9.7],[0.4,-9.9],[0.6,-9.6],[0.8,-9.8],[1.0,-9.7],
[-1.6,-11.1],[-1.4,-11.3],[-1.0,-11.1],[-0.8,-11.3],[-0.6,-11.1],[-0.4,-11.2],[0.0,-11.1],[0.2,-11.3],[0.4,-11.0],[0.6,-11.2],[0.8,-11.1],
[-1.4,-12.9],[-1.2,-12.6],[-1.05,-13.0],[-0.9,-12.7],[-0.75,-12.9],[-0.55,-12.6],[-0.4,-12.8],[-0.2,-12.5],[0.1,-12.9],[0.3,-12.5],[-1.25,-11.2],[-1.15,-11.5],[-1.1,-11.0]
];
const p3Dark = [
[-0.85,2.9],[-0.4,2.8],[0.15,2.9],[0.45,3.0],[0.85,2.9],[-0.8,1.6],[-0.4,1.3],[0.2,1.6],[0.7,1.9],[1.1,1.3],[-1.1,0.1],[-0.7,0.0],[-0.3,0.1],[0.25,0.0],[0.65,0.1],
[-1.25,-1.5],[-0.85,-1.4],[-0.45,-1.6],[0.15,-1.5],[0.55,-1.3],[-1.2,-3.0],[-0.6,-2.9],[-0.2,-3.1],[0.2,-3.0],[0.8,-3.0],
[-1.3,-4.5],[-0.9,-4.5],[-0.5,-4.4],[-0.1,-4.5],[0.3,-4.5],[0.7,-4.6],[-1.2,-6.3],[-0.9,-6.0],[-0.7,-6.4],[-0.55,-6.0],[-0.35,-6.4],[-0.15,-6.6],[0.15,-6.2],[0.5,-6.1],
[-1.2,-7.5],[-0.8,-7.4],[-0.4,-7.5],[-0.05,-7.6],[0.4,-7.7],[0.85,-7.4],[-1.3,-9.1],[-0.85,-9.1],[-0.45,-9.0],[-0.05,-9.1],[0.35,-9.05],[0.75,-9.1],
[-1.3,-10.5],[-1.0,-10.6],[-0.6,-10.5],[-0.2,-10.5],[0.2,-10.4],[-1.35,-11.6],[-1.0,-11.9],[-0.5,-12.3],[-0.9,-13.3],
[-0.8,-5.3],[-0.6,-5.4],[-0.4,-5.5],[-0.2,-5.4],[0.0,-5.6],[-0.75,-6.9],[-0.5,-6.8],[-0.3,-7.0],[-0.05,-6.9],[0.25,-7.0],[-0.85,-8.0],[-0.65,-7.8],[-0.35,-7.9],[-0.1,-8.0],[0.2,-7.8],[-0.65,-9.2],[-0.4,-8.8],[-0.2,-9.2],[0.15,-8.9],[-0.75,-4.2],[-0.45,-3.9],[-0.15,-4.0],[0.15,-3.9],[-1.35,-10.7],[-1.25,-10.9],[-1.15,-10.6],[-1.05,-11.3],[-1.2,-12.1],[-0.95,-10.2],[-0.8,-10.0],[-0.55,-10.2],[-0.35,-10.9],[-0.45,-2.6],[-0.15,-2.7],[0.3,-2.5],[-0.6,-1.2],[0.0,-1.2],[0.4,-1.1],[-0.65,0.4],[-0.1,0.5],[0.5,0.3],[-0.35,1.9],[0.05,1.6],[0.5,1.9],[-0.25,3.2],[0.35,3.3],[0.6,3.3],[0.85,-5.6],[1.05,-7.0],[1.2,-3.0],[1.15,-8.0],[0.95,-10.1],[-1.35,-5.3],[-1.3,-3.9],[-1.45,-7.7],[-1.25,-8.7]
];

// axis ranges
const p1XRange = [-3.41, 4.20], p1YRange = [-3, 4.83];
const p2XRange = [-3.40, 4.35], p2YRange = [-20, 7.6];
const p3XRange = [-3.41, 4.35], p3YRange = [-20, 7.52];
// r label anchor (data coords)
const p1RPos = [3.28, 3.75], p2RPos = [3.74, 5.19], p3RPos = [3.75, 4.75];

// ---------- DRAWING ----------
const FONT = "'Liberation Sans', Arial, Helvetica, sans-serif";
const AXIS = '#8a8a8a';

const rLabelPlugin = {
  id: 'rLabel',
  afterDatasetsDraw(chart, args, opts) {
    const ctx = chart.ctx;
    const x = chart.scales.x.getPixelForValue(opts.pos[0]);
    const y = chart.scales.y.getPixelForValue(opts.pos[1]);
    ctx.save();
    ctx.font = 'bold 20px ' + FONT;
    ctx.fillStyle = '#1e1e1e';
    ctx.textAlign = 'center';
    ctx.textBaseline = 'middle';
    ctx.fillText(opts.text, x, y);
    ctx.restore();
  }
};

function makePanel(id, pts, xr, yr, xt, yt, fit, labels, rpos, lay) {
  const line = [xr[0], xr[1]].map(x => ({x: x, y: fit[1] + fit[0] * x}));
  new Chart(document.getElementById(id), {
    type: 'scatter',
    data: {
      datasets: [
        {
          data: pts.map(p => ({x: p[0], y: p[1]})),
          pointStyle: 'circle', pointRadius: 4.3, pointHoverRadius: 4.3,
          borderColor: 'rgba(28,28,28,0.82)', backgroundColor: 'rgba(0,0,0,0)', borderWidth: 1.3
        },
        {
          type: 'line', data: line, borderColor: '#2a2a2a', borderWidth: 1.7,
          pointRadius: 0, fill: false, tension: 0
        }
      ]
    },
    options: {
      responsive: false, animation: false, devicePixelRatio: 1,
      layout: {autoPadding: false, padding: {left: 0, top: lay.top, right: lay.right, bottom: 0}},
      plugins: {legend: {display: false}, tooltip: {enabled: false},
        rLabel: {text: labels.r, pos: rpos}},
      scales: {
        x: {
          type: 'linear', min: xr[0], max: xr[1],
          afterBuildTicks: s => { s.ticks = xt.map(v => ({value: v})); },
          afterFit: s => { s.height = lay.xh; s.paddingLeft = 0; s.paddingRight = 0; },
          border: {display: true, color: AXIS, width: 2},
          grid: {display: true, drawOnChartArea: false, drawTicks: true, tickLength: 9, color: '#7a7a7a', lineWidth: 1.5},
          ticks: {color: '#6e6e6e', font: {family: FONT, size: 18}, padding: 5, maxRotation: 0, autoSkip: false},
          title: {display: true, text: labels.x, color: '#1e1e1e', font: {family: FONT, size: 20, weight: 'bold'}, padding: {top: 0, bottom: lay.xtb}}
        },
        y: {
          type: 'linear', min: yr[0], max: yr[1],
          afterBuildTicks: s => { s.ticks = yt.map(v => ({value: v})); },
          afterFit: s => { s.width = lay.yw; s.paddingTop = 0; s.paddingBottom = 0; },
          border: {display: true, color: AXIS, width: 2},
          grid: {display: true, drawOnChartArea: false, drawTicks: true, tickLength: 7, color: '#7a7a7a', lineWidth: 1.5},
          ticks: {color: '#6e6e6e', font: {family: FONT, size: 18}, padding: 3, autoSkip: false},
          title: {display: true, text: labels.y, color: '#1e1e1e', font: {family: FONT, size: 20, weight: 'bold'}, padding: {top: lay.ytp, bottom: 0}}
        }
      }
    },
    plugins: [rLabelPlugin]
  });
}

makePanel('p1', p1Outer.concat(p1Cloud, p1Core, p1Dark), p1XRange, p1YRange, zTicks, p1YTicks, p1Fit, p1Labels, p1RPos,
  {top: 12, right: 0, xh: 84, xtb: 10, yw: 93, ytp: 16});
makePanel('p2', p2Outer.concat(p2Cloud, p2Core, p2Dark), p2XRange, p2YRange, zTicks, snrTicks, p2Fit, p2Labels, p2RPos,
  {top: 17.5, right: 7.5, xh: 72, xtb: 2, yw: 89.4, ytp: 14});
makePanel('p3', p3Outer.concat(p3Cloud, p3Core, p3Dark), p3XRange, p3YRange, zTicks, snrTicks, p3Fit, p3Labels, p3RPos,
  {top: 11.5, right: 10, xh: 78, xtb: 0, yw: 86.4, ytp: 12});
</script>
</body></html>
